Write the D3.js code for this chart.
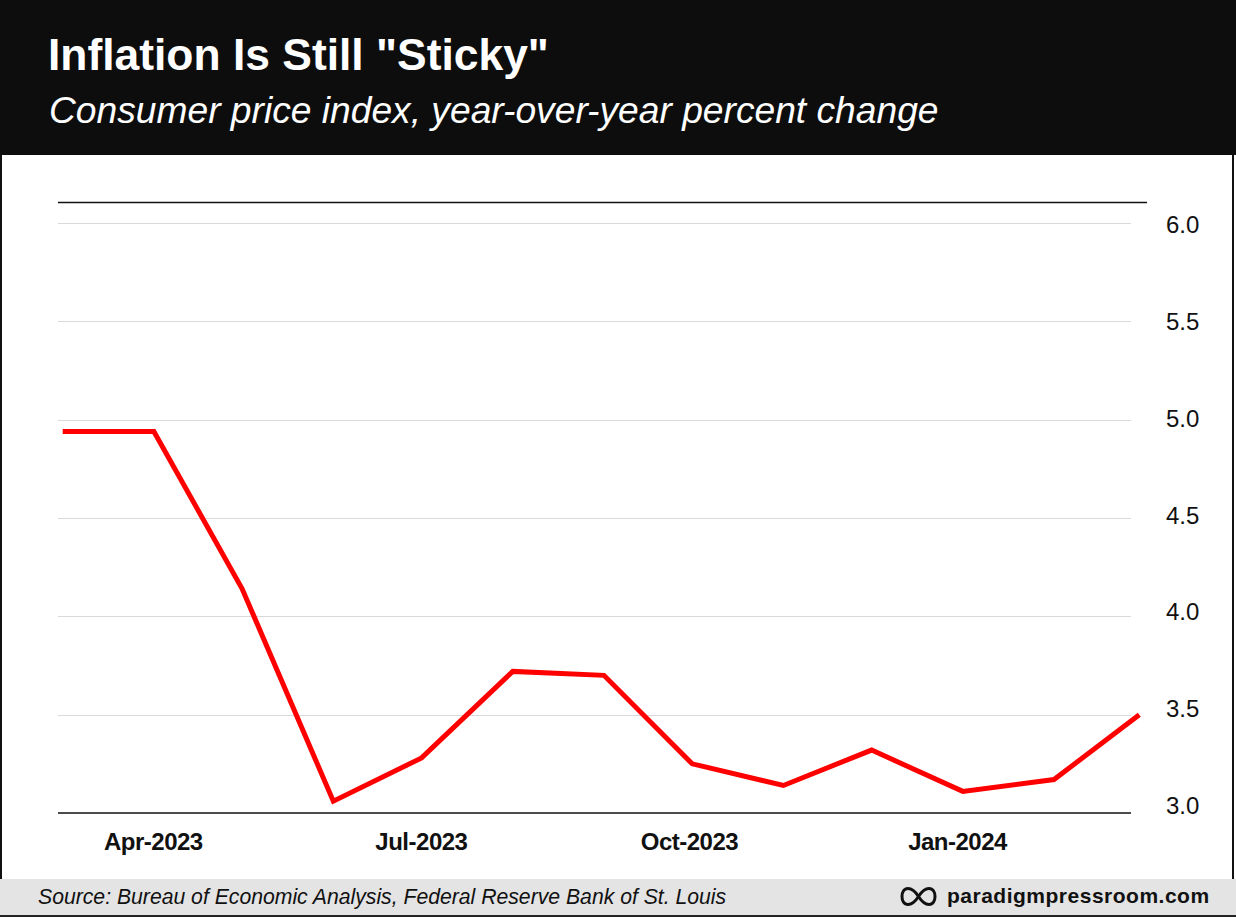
<!DOCTYPE html>
<html>
<head>
<meta charset="utf-8">
<script src="https://cdn.jsdelivr.net/npm/d3@7"></script>
<style>
  html, body { margin: 0; padding: 0; background: #fff; }
  svg { display: block; font-family: "Liberation Sans", Arial, Helvetica, sans-serif; }
</style>
</head>
<body>
<svg id="chart" width="1236" height="917"></svg>
<script>
// ---- Data ----
const months = ["2023-03","2023-04","2023-05","2023-06","2023-07","2023-08","2023-09",
                "2023-10","2023-11","2023-12","2024-01","2024-02","2024-03"];
const cpiYoY = [4.94, 4.94, 4.14, 3.06, 3.28, 3.72, 3.70, 3.25, 3.14, 3.32, 3.11, 3.17, 3.50];
const xTickMonths = ["2023-04","2023-07","2023-10","2024-01"];
const xTickLabels = ["Apr-2023","Jul-2023","Oct-2023","Jan-2024"];
const yTicks = [3.0, 3.5, 4.0, 4.5, 5.0, 5.5, 6.0];

const titleText = 'Inflation Is Still "Sticky"';
const subtitleText = "Consumer price index, year-over-year percent change";
const sourceText = "Source: Bureau of Economic Analysis, Federal Reserve Bank of St. Louis";
const brandText = "paradigmpressroom.com";

// ---- Setup ----
const W = 1236, H = 917;
const svg = d3.select("#chart");
const parse = d3.timeParse("%Y-%m");
const data = months.map((m, i) => ({ date: parse(m), value: cpiYoY[i] }));

const x = d3.scaleTime()
  .domain([parse("2023-03"), parse("2024-03")])
  .range([62.7, 1139.3]);
const xLabel = d3.scalePoint().domain(months).range([64, 1136.2]);
const y = d3.scaleLinear().domain([3, 6]).range([813, 223]);
const yLabel = d3.scaleLinear().domain([3, 6]).range([814, 233]);

const gridX0 = 58, gridX1 = 1131;

// Background
svg.append("rect").attr("x", 0).attr("y", 0).attr("width", W).attr("height", H).attr("fill", "#fff");

// Header
svg.append("rect").attr("x", 0).attr("y", 0).attr("width", W).attr("height", 155).attr("fill", "#0d0d0d");
svg.append("text").attr("x", 48).attr("y", 70)
  .attr("fill", "#fff").attr("font-size", 44.4).attr("font-weight", "bold")
  .text(titleText);
svg.append("text").attr("x", 49).attr("y", 123)
  .attr("fill", "#fff").attr("font-size", 37.2).attr("font-style", "italic")
  .text(subtitleText);

// Side borders of body
svg.append("rect").attr("x", 0).attr("y", 155).attr("width", 2).attr("height", 724).attr("fill", "#111");
svg.append("rect").attr("x", 1232).attr("y", 155).attr("width", 2).attr("height", 724).attr("fill", "#111");

// Gridlines
svg.append("g").selectAll("line")
  .data(yTicks.filter(d => d !== 3.0))
  .join("line")
  .attr("x1", gridX0).attr("x2", gridX1)
  .attr("y1", d => Math.round(y(d)) + 0.5).attr("y2", d => Math.round(y(d)) + 0.5)
  .attr("stroke", "#d9d9d9").attr("stroke-width", 1);

// Top rule
svg.append("line").attr("x1", gridX0).attr("x2", 1147)
  .attr("y1", 202.5).attr("y2", 202.5)
  .attr("stroke", "#111").attr("stroke-width", 1.5);

// Baseline axis
svg.append("line").attr("x1", gridX0).attr("x2", gridX1)
  .attr("y1", y(3)).attr("y2", y(3))
  .attr("stroke", "#111").attr("stroke-width", 1.5);

// Y labels
svg.append("g").selectAll("text")
  .data(yTicks)
  .join("text")
  .attr("x", 1166).attr("y", d => yLabel(d))
  .attr("font-size", 24).attr("fill", "#111")
  .text(d => d3.format(".1f")(d));

// X labels
svg.append("g").selectAll("text")
  .data(xTickMonths)
  .join("text")
  .attr("x", d => xLabel(d)).attr("y", 850)
  .attr("text-anchor", "middle")
  .attr("font-size", 24).attr("font-weight", "bold").attr("letter-spacing", "-0.5px")
  .attr("fill", "#111")
  .text((d, i) => xTickLabels[i]);

// Line
const line = d3.line().x(d => x(d.date)).y(d => y(d.value));
svg.append("path").datum(data)
  .attr("d", line)
  .attr("fill", "none").attr("stroke", "#ff0000")
  .attr("stroke-width", 5).attr("stroke-linejoin", "miter");

// Footer
svg.append("rect").attr("x", 0).attr("y", 879).attr("width", W).attr("height", 38).attr("fill", "#e4e4e4");
svg.append("rect").attr("x", 0).attr("y", 915).attr("width", W).attr("height", 2).attr("fill", "#222");
svg.append("text").attr("x", 38).attr("y", 904)
  .attr("font-size", 21.2).attr("font-style", "italic").attr("fill", "#111")
  .text(sourceText);
svg.append("path")
  .attr("d", "M918.5 896.5 C922 891,926 888.5,929 888.5 C933 888.5,935 892,935 896.5 C935 901,933 904.5,929 904.5 C926 904.5,922 902,918.5 896.5 C915 891,911 888.5,908 888.5 C904 888.5,902 892,902 896.5 C902 901,904 904.5,908 904.5 C911 904.5,915 902,918.5 896.5 Z")
  .attr("fill", "none").attr("stroke", "#111").attr("stroke-width", 3);
svg.append("text").attr("x", 947).attr("y", 903)
  .attr("font-size", 21).attr("font-weight", "bold").attr("letter-spacing", "0.5px").attr("fill", "#111")
  .text(brandText);
</script>
</body>
</html>
